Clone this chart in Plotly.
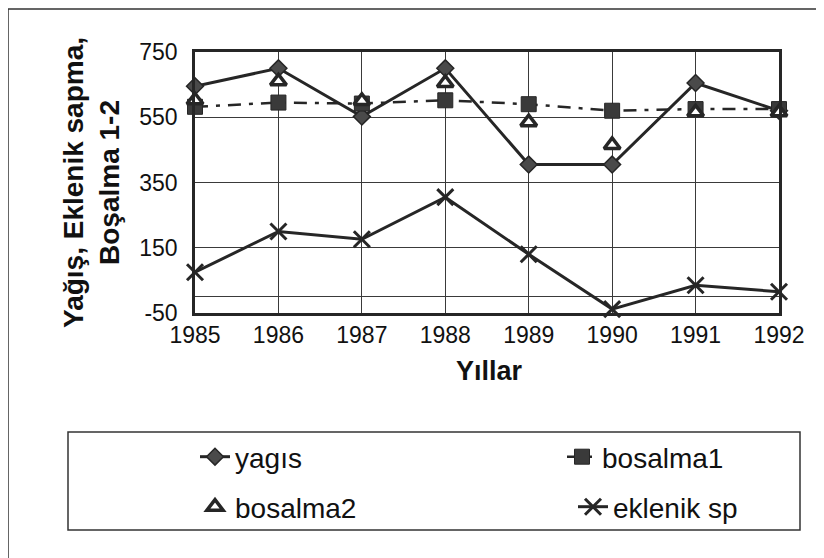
import plotly.graph_objects as go

years = [1985, 1986, 1987, 1988, 1989, 1990, 1991, 1992]
yagis = [645, 700, 552, 700, 405, 405, 655, 570]
bosalma1 = [582, 595, 592, 602, 590, 570, 575, 575]
bosalma2 = [602, 660, 600, 655, 535, 465, 565, 565]
eklenik_sp = [75, 200, 176, 305, 130, -38, 35, 15]

y_ticks = [-50, 150, 350, 550, 750]

FONT = "Liberation Sans, Arial, sans-serif"
INK = "#262626"

# The page body adds an 8px margin; lay out in reference pixels minus that.
OFF = 8
W, H = 824 - OFF, 558 - OFF
L, R, T, B = 195 - OFF, 779 - OFF, 52 - OFF, 313 - OFF

def px_x(x):
    return (x - OFF - L) / (R - L)

def px_y(y):
    return (B - (y - OFF)) / (B - T)

def cx(x):
    return (x - OFF) / W

def cy(y):
    return 1 - (y - OFF) / H

fig = go.Figure()

fig.add_trace(go.Scatter(
    x=years, y=yagis, name="yagıs", mode="lines+markers",
    line=dict(color=INK, width=3),
    marker=dict(symbol="diamond", size=13, color="#4a4a4a", line=dict(color=INK, width=1.5)),
    cliponaxis=False, legend="legend"))

fig.add_trace(go.Scatter(
    x=years, y=bosalma1, name="bosalma1", mode="lines+markers",
    line=dict(color=INK, width=2.5, dash="13px,8px,4px,8px"),
    marker=dict(symbol="square", size=15, color="#3a3a3a", line=dict(color=INK, width=1)),
    cliponaxis=False, legend="legend2"))

fig.add_trace(go.Scatter(
    x=years, y=bosalma2, name="bosalma2", mode="markers",
    marker=dict(symbol="triangle-up", size=14, color="white", line=dict(color=INK, width=3.5)),
    cliponaxis=False, legend="legend3"))

fig.add_trace(go.Scatter(
    x=years, y=eklenik_sp, name="eklenik sp", mode="lines+markers",
    line=dict(color=INK, width=3),
    marker=dict(symbol="x-thin", size=16, color=INK, line=dict(color=INK, width=3)),
    cliponaxis=False, legend="legend4"))

axis_common = dict(
    showline=True, linecolor=INK, linewidth=2.5, mirror=True,
    showgrid=True, gridcolor="#3a3a3a", gridwidth=1.3,
    tickfont=dict(family=FONT, size=23, color="#111"),
    automargin=False,
)

fig.update_xaxes(
    range=[1985, 1992], tickmode="array", tickvals=years,
    ticktext=[str(y) for y in years], zeroline=False, ticks="", tickangle=0,
    **axis_common)
fig.update_yaxes(
    range=[-50, 750], tickmode="array", tickvals=y_ticks,
    ticktext=[str(v) for v in y_ticks], zeroline=True, zerolinecolor="#3a3a3a",
    zerolinewidth=1.3, ticks="", ticklabelstandoff=10, **axis_common)

leg_common = dict(
    xref="container", yref="container", xanchor="left", yanchor="middle",
    bgcolor="rgba(0,0,0,0)", borderwidth=0,
    font=dict(family=FONT, size=28, color="#111"), itemwidth=30,
)
fig.update_layout(
    legend=dict(x=cx(195), y=cy(457), **leg_common),
    legend2=dict(x=cx(562), y=cy(457), **leg_common),
    legend3=dict(x=cx(195), y=cy(507), **leg_common),
    legend4=dict(x=cx(573), y=cy(507), **leg_common),
)

# y-axis title (two lines, rotated) and x-axis title
fig.add_annotation(
    text="<b>Yağış, Eklenik sapma,</b><br><b>Boşalma 1-2</b>",
    xref="paper", yref="paper", x=px_x(91), y=px_y(183),
    xanchor="center", yanchor="middle",
    textangle=-90, showarrow=False, align="center",
    font=dict(family=FONT, size=28, color="#111"))
fig.add_annotation(
    text="<b>Yıllar</b>", xref="paper", yref="paper",
    x=px_x(489), y=px_y(371), xanchor="center", yanchor="middle",
    showarrow=False,
    font=dict(family=FONT, size=27, color="#111"))

# legend frame
fig.add_shape(type="rect", xref="paper", yref="paper",
              x0=px_x(68), x1=px_x(800), y0=px_y(432), y1=px_y(530),
              line=dict(color="#333", width=1.5))
# outer chart frame (left and top edges)
fig.add_shape(type="path", xref="paper", yref="paper",
              path=f"M {px_x(8)},{px_y(570)} L {px_x(8)},{px_y(9)} L {px_x(830)},{px_y(9)}",
              line=dict(color="#333", width=1.5))

fig.update_layout(
    width=W, height=H, autosize=False,
    margin=dict(l=L, r=W - R, t=T, b=H - B, autoexpand=False),
    paper_bgcolor="white", plot_bgcolor="white",
    showlegend=True,
)

fig.write_html("out.html")
